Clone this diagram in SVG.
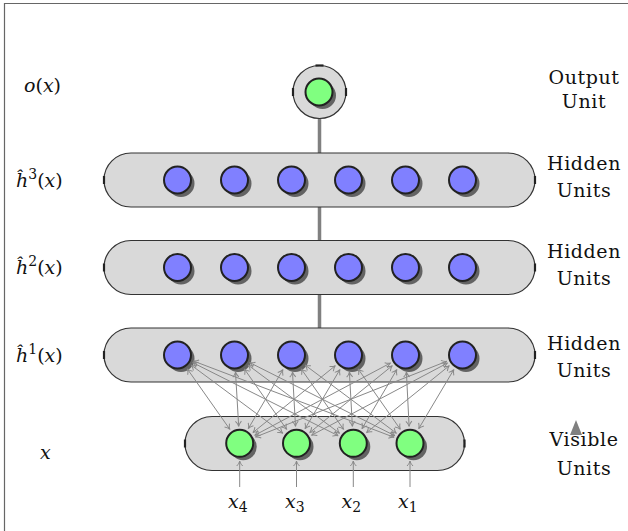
<svg xmlns="http://www.w3.org/2000/svg" width="628" height="531" viewBox="0 0 628 531">
  <style>
    .layer { fill: #d9d9d9; stroke: #333; stroke-width: 1.2; }
    .tick { stroke: #222; stroke-width: 2.2; }
    .unit { stroke: #222; stroke-width: 2; }
    .hid { fill: #8080ff; }
    .vis { fill: #80ff80; }
    .edge { stroke: #888; stroke-width: 1; fill: none; marker-start: url(#tip); marker-end: url(#tip); }
    .inp { stroke: #888; stroke-width: 1; fill: none; marker-end: url(#tip); }
    .trunk { stroke: #808080; stroke-width: 3.5; }
    .lbl { text-anchor: middle; letter-spacing: 0.6px; }
    .it { font-style: italic; }
    .sup { font-size: 14px; }
  </style>
  <defs>
    <marker id="tip" viewBox="-6 -4 7 8" refX="0" refY="0" markerWidth="7" markerHeight="8" markerUnits="userSpaceOnUse" orient="auto-start-reverse">
      <path d="M-5,-3 C-3.2,-1.2 -1.2,-0.3 0,0 C-1.2,0.3 -3.2,1.2 -5,3" stroke="#888" stroke-width="1" fill="none"/>
    </marker>
    <!-- unit circles and their drop shadow -->
    <circle id="hu" r="13.5" class="unit hid"/>
    <circle id="vu" r="13.5" class="unit vis"/>
    <circle id="sh" r="13.5" fill="#636363"/>
  </defs>

  <rect width="628" height="531" fill="#fff"/>
  <!-- frame -->
  <path d="M4.5,531 V3.5 H628" fill="none" stroke="#666" stroke-width="1.2"/>

  <!-- trunk joining output and hidden layers -->
  <g id="trunk">
    <line class="trunk" x1="319.5" y1="118" x2="319.5" y2="330"/>
  </g>

  <g id="output">
    <circle cx="319.5" cy="92" r="26.5" class="layer"/>
    <line class="tick" x1="315.5" y1="65.5" x2="323.5" y2="65.5"/>
    <line class="tick" x1="293" y1="88" x2="293" y2="96"/>
    <line class="tick" x1="346" y1="88" x2="346" y2="96"/>
    <use href="#sh" x="322.5" y="95.5"/>
    <use href="#vu" x="319" y="92"/>
  </g>

  <g id="hidden3">
    <rect x="104" y="153" width="431" height="54" rx="27" class="layer"/>
    <line class="tick" x1="104" y1="176" x2="104" y2="184"/>
    <line class="tick" x1="535" y1="176" x2="535" y2="184"/>
    <use href="#sh" x="181" y="183.5"/><use href="#hu" x="177.5" y="180"/>
    <use href="#sh" x="238" y="183.5"/><use href="#hu" x="234.5" y="180"/>
    <use href="#sh" x="295" y="183.5"/><use href="#hu" x="291.5" y="180"/>
    <use href="#sh" x="352" y="183.5"/><use href="#hu" x="348.5" y="180"/>
    <use href="#sh" x="409" y="183.5"/><use href="#hu" x="405.5" y="180"/>
    <use href="#sh" x="466" y="183.5"/><use href="#hu" x="462.5" y="180"/>
  </g>

  <g id="hidden2">
    <rect x="104" y="240.5" width="431" height="54" rx="27" class="layer"/>
    <line class="tick" x1="104" y1="263.5" x2="104" y2="271.5"/>
    <line class="tick" x1="535" y1="263.5" x2="535" y2="271.5"/>
    <use href="#sh" x="181" y="271"/><use href="#hu" x="177.5" y="267.5"/>
    <use href="#sh" x="238" y="271"/><use href="#hu" x="234.5" y="267.5"/>
    <use href="#sh" x="295" y="271"/><use href="#hu" x="291.5" y="267.5"/>
    <use href="#sh" x="352" y="271"/><use href="#hu" x="348.5" y="267.5"/>
    <use href="#sh" x="409" y="271"/><use href="#hu" x="405.5" y="267.5"/>
    <use href="#sh" x="466" y="271"/><use href="#hu" x="462.5" y="267.5"/>
  </g>

  <g id="hidden1">
    <rect x="104" y="328" width="431" height="54" rx="27" class="layer"/>
    <line class="tick" x1="104" y1="351" x2="104" y2="359"/>
    <line class="tick" x1="535" y1="351" x2="535" y2="359"/>
    <use href="#sh" x="181" y="358.5"/><use href="#hu" x="177.5" y="355"/>
    <use href="#sh" x="238" y="358.5"/><use href="#hu" x="234.5" y="355"/>
    <use href="#sh" x="295" y="358.5"/><use href="#hu" x="291.5" y="355"/>
    <use href="#sh" x="352" y="358.5"/><use href="#hu" x="348.5" y="355"/>
    <use href="#sh" x="409" y="358.5"/><use href="#hu" x="405.5" y="355"/>
    <use href="#sh" x="466" y="358.5"/><use href="#hu" x="462.5" y="355"/>
  </g>

  <g id="visible">
    <rect x="185" y="416.5" width="279.5" height="54" rx="27" class="layer"/>
    <line class="tick" x1="185" y1="439.5" x2="185" y2="447.5"/>
    <line class="tick" x1="464.5" y1="439.5" x2="464.5" y2="447.5"/>
    <use href="#sh" x="243.2" y="446.8"/><use href="#vu" x="239.7" y="443.3"/>
    <use href="#sh" x="300" y="446.8"/><use href="#vu" x="296.5" y="443.3"/>
    <use href="#sh" x="356.8" y="446.8"/><use href="#vu" x="353.3" y="443.3"/>
    <use href="#sh" x="413.5" y="446.8"/><use href="#vu" x="410" y="443.3"/>
  </g>

  <!-- full bipartite links between first hidden layer and visible layer -->
  <g id="connectors">
    <line class="edge" x1="187.3" y1="368.9" x2="229.9" y2="429.4"/>
    <line class="edge" x1="191.2" y1="365.1" x2="282.9" y2="433.2"/>
    <line class="edge" x1="192.7" y1="362.6" x2="338.1" y2="435.7"/>
    <line class="edge" x1="193.4" y1="361.0" x2="394.1" y2="437.3"/>

    <line class="edge" x1="235.5" y1="372.0" x2="238.7" y2="426.3"/>
    <line class="edge" x1="244.3" y1="368.9" x2="286.7" y2="429.4"/>
    <line class="edge" x1="248.1" y1="365.1" x2="339.6" y2="433.2"/>
    <line class="edge" x1="249.7" y1="362.6" x2="394.8" y2="435.7"/>

    <line class="edge" x1="282.9" y1="369.7" x2="248.3" y2="428.6"/>
    <line class="edge" x1="292.5" y1="372.0" x2="295.5" y2="426.3"/>
    <line class="edge" x1="301.2" y1="368.9" x2="343.6" y2="429.4"/>
    <line class="edge" x1="305.1" y1="365.1" x2="396.4" y2="433.2"/>

    <line class="edge" x1="335.3" y1="365.7" x2="252.9" y2="432.6"/>
    <line class="edge" x1="339.9" y1="369.6" x2="305.1" y2="428.7"/>
    <line class="edge" x1="349.4" y1="372.0" x2="352.4" y2="426.3"/>
    <line class="edge" x1="358.2" y1="369.0" x2="400.3" y2="429.3"/>

    <line class="edge" x1="390.5" y1="363.0" x2="254.7" y2="435.3"/>
    <line class="edge" x1="392.3" y1="365.7" x2="309.7" y2="432.6"/>
    <line class="edge" x1="396.8" y1="369.6" x2="362.0" y2="428.7"/>
    <line class="edge" x1="406.4" y1="372.0" x2="409.1" y2="426.3"/>

    <line class="edge" x1="446.7" y1="361.3" x2="255.5" y2="437.0"/>
    <line class="edge" x1="447.5" y1="363.0" x2="311.5" y2="435.3"/>
    <line class="edge" x1="449.3" y1="365.7" x2="366.5" y2="432.6"/>
    <line class="edge" x1="453.8" y1="369.6" x2="418.7" y2="428.7"/>

    <!-- inputs -->
    <line class="inp" x1="239.7" y1="487" x2="239.7" y2="461"/>
    <line class="inp" x1="296.5" y1="487" x2="296.5" y2="461"/>
    <line class="inp" x1="353.3" y1="487" x2="353.3" y2="461"/>
    <line class="inp" x1="410" y1="487" x2="410" y2="461"/>
  </g>

  <!-- stray arrowhead -->
  <polygon points="576,420 570,435 582,435" fill="#808080"/>

  <g font-family="DejaVu Serif, serif" font-size="19" fill="#111">
    <!-- layer names -->
    <g id="left-labels">
      <text x="24" y="92"><tspan class="it">o</tspan>(<tspan class="it">x</tspan>)</text>
      <text x="16" y="187"><tspan class="it">ĥ</tspan><tspan class="sup" dy="-8">3</tspan><tspan dy="8">(</tspan><tspan class="it">x</tspan>)</text>
      <text x="16" y="274"><tspan class="it">ĥ</tspan><tspan class="sup" dy="-8">2</tspan><tspan dy="8">(</tspan><tspan class="it">x</tspan>)</text>
      <text x="16" y="362"><tspan class="it">ĥ</tspan><tspan class="sup" dy="-8">1</tspan><tspan dy="8">(</tspan><tspan class="it">x</tspan>)</text>
      <text class="it" x="40" y="459">x</text>
    </g>

    <g id="input-labels">
      <text x="228" y="508"><tspan class="it">x</tspan><tspan class="sup" dy="4">4</tspan></text>
      <text x="285" y="508"><tspan class="it">x</tspan><tspan class="sup" dy="4">3</tspan></text>
      <text x="341.5" y="508"><tspan class="it">x</tspan><tspan class="sup" dy="4">2</tspan></text>
      <text x="398" y="508"><tspan class="it">x</tspan><tspan class="sup" dy="4">1</tspan></text>
    </g>

    <g id="right-labels">
      <text class="lbl" x="584" y="84">Output</text>
      <text class="lbl" x="584" y="108">Unit</text>
      <text class="lbl" x="584" y="170">Hidden</text>
      <text class="lbl" x="584" y="196.5">Units</text>
      <text class="lbl" x="584" y="258">Hidden</text>
      <text class="lbl" x="584" y="285">Units</text>
      <text class="lbl" x="584" y="349.5">Hidden</text>
      <text class="lbl" x="584" y="376.5">Units</text>
      <text class="lbl" x="584" y="446">Visible</text>
      <text class="lbl" x="584" y="475">Units</text>
    </g>
  </g>
</svg>
